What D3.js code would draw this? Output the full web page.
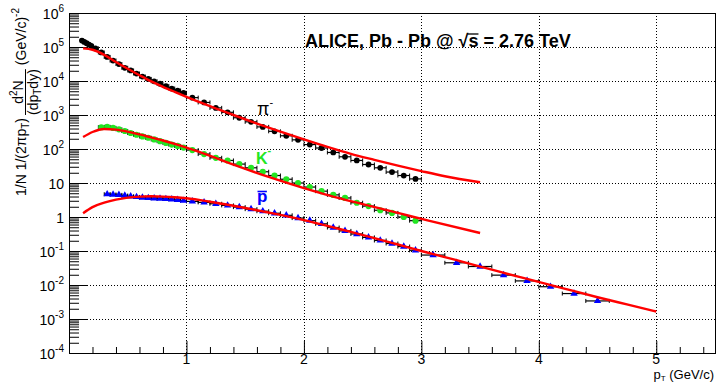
<!DOCTYPE html>
<html>
<head>
<meta charset="utf-8">
<script src="https://cdn.jsdelivr.net/npm/d3@7"></script>
<style>
  body { margin: 0; background: #fff; }
  svg { display: block; }
  text { font-family: "Liberation Sans", Arial, Helvetica, sans-serif; fill: #000; }
</style>
</head>
<body>
<svg id="chart" width="717" height="383"></svg>
<script>
// ---- pi- spectrum: bin centres, bin widths, yields ----
const piPt = [0.11, 0.13, 0.15, 0.17, 0.19,
  0.225, 0.275, 0.325, 0.375, 0.425, 0.475, 0.525, 0.575, 0.625, 0.675, 0.725, 0.775, 0.825, 0.875, 0.925, 0.975,
  1.05, 1.15, 1.25, 1.35, 1.45, 1.55, 1.65, 1.75, 1.85, 1.95, 2.05, 2.15, 2.25, 2.35, 2.45, 2.55, 2.65, 2.75, 2.85, 2.95];
const piWidth = [0.02, 0.02, 0.02, 0.02, 0.02,
  0.05, 0.05, 0.05, 0.05, 0.05, 0.05, 0.05, 0.05, 0.05, 0.05, 0.05, 0.05, 0.05, 0.05, 0.05, 0.05,
  0.1, 0.1, 0.1, 0.1, 0.1, 0.1, 0.1, 0.1, 0.1, 0.1, 0.1, 0.1, 0.1, 0.1, 0.1, 0.1, 0.1, 0.1, 0.1, 0.1];
const piYield = [155000, 141000, 129000, 117000, 107000,
  91000, 69000, 51000, 40000, 31600, 24500, 20400, 16600, 13500, 11500, 9800, 8300, 7100, 6000, 5250, 4470,
  3240, 2340, 1620, 1200, 830, 630, 447, 331, 245, 186, 135, 107, 79, 59, 46, 35, 28, 21, 16.6, 13.2];

// ---- K- spectrum ----
const kPt = [0.275, 0.325, 0.375, 0.425, 0.475, 0.525, 0.575, 0.625, 0.675, 0.725, 0.775, 0.825, 0.875, 0.925, 0.975,
  1.05, 1.15, 1.25, 1.35, 1.45, 1.55, 1.65, 1.75, 1.85, 1.95, 2.05, 2.15, 2.25, 2.35, 2.45, 2.55, 2.65, 2.75, 2.85, 2.95];
const kWidth = [0.05, 0.05, 0.05, 0.05, 0.05, 0.05, 0.05, 0.05, 0.05, 0.05, 0.05, 0.05, 0.05, 0.05, 0.05,
  0.1, 0.1, 0.1, 0.1, 0.1, 0.1, 0.1, 0.1, 0.1, 0.1, 0.1, 0.1, 0.1, 0.1, 0.1, 0.1, 0.1, 0.1, 0.1, 0.1];
const kYield = [437, 447, 417, 380, 339, 295, 263, 234, 214, 191, 170, 151, 135, 123, 110,
  93, 71, 55, 46, 36, 28, 21.4, 16.6, 12.9, 10.0, 7.6, 5.75, 4.47, 3.63, 2.63, 2.09, 1.58, 1.32, 1.0, 0.78];

// ---- anti-proton spectrum ----
const pPt = [0.325, 0.375, 0.425, 0.475, 0.525, 0.575, 0.625, 0.675, 0.725, 0.775, 0.825, 0.875, 0.925, 0.975,
  1.05, 1.15, 1.25, 1.35, 1.45, 1.55, 1.65, 1.75, 1.85, 1.95, 2.05, 2.15, 2.25, 2.35, 2.45, 2.55, 2.65, 2.75, 2.85, 2.95,
  3.1, 3.3, 3.5, 3.7, 3.9, 4.1, 4.3, 4.5];
const pWidth = [0.05, 0.05, 0.05, 0.05, 0.05, 0.05, 0.05, 0.05, 0.05, 0.05, 0.05, 0.05, 0.05, 0.05,
  0.1, 0.1, 0.1, 0.1, 0.1, 0.1, 0.1, 0.1, 0.1, 0.1, 0.1, 0.1, 0.1, 0.1, 0.1, 0.1, 0.1, 0.1, 0.1, 0.1,
  0.2, 0.2, 0.2, 0.2, 0.2, 0.2, 0.2, 0.2];
const pYield = [4.68, 4.57, 4.47, 4.27, 4.07, 3.89, 3.72, 3.63, 3.55, 3.47, 3.39, 3.31, 3.20, 3.02,
  2.88, 2.69, 2.45, 2.19, 1.95, 1.70, 1.48, 1.29, 1.12, 0.93, 0.78, 0.63, 0.49, 0.39, 0.316, 0.251, 0.204, 0.166, 0.135, 0.105,
  0.076, 0.045, 0.035, 0.0195, 0.0132, 0.0089, 0.0056, 0.0034];

// ---- fitted curves (pT, yield) ----
const piFitPt = [0.12, 0.2, 0.3, 0.4, 0.5, 0.6, 0.7, 0.8, 0.9, 1.0, 1.2, 1.4, 1.6, 1.8, 2.0, 2.2, 2.4, 2.6, 2.8, 3.0, 3.2, 3.5];
const piFit = [91200, 83000, 58900, 36300, 22900, 14800, 9770, 6760, 4790, 3430, 1820, 1000, 562, 324, 191, 115, 72, 48, 32.4, 22.4, 15.8, 10.5];
const kFitPt = [0.12, 0.2, 0.3, 0.4, 0.5, 0.6, 0.7, 0.8, 0.9, 1.0, 1.12, 1.4, 1.7, 2.0, 2.25, 2.5, 2.8, 3.07, 3.5];
const kFit = [224, 316, 389, 372, 324, 269, 219, 178, 141, 110, 79.4, 34.7, 15.1, 7.08, 3.98, 2.40, 1.32, 0.767, 0.339];
const pFitPt = [0.12, 0.2, 0.3, 0.4, 0.5, 0.6, 0.7, 0.8, 0.9, 1.0, 1.2, 1.4, 1.6, 1.8, 2.0, 2.2, 2.4, 2.6, 2.8, 3.0, 3.3, 3.6, 3.9, 4.2, 4.5, 4.75, 5.0];
const pFit = [1.29, 1.95, 2.63, 3.24, 3.72, 3.98, 4.07, 3.98, 3.80, 3.55, 2.82, 2.14, 1.58, 1.15, 0.813, 0.550, 0.363, 0.240, 0.155, 0.100, 0.0537, 0.0282, 0.0151, 0.00813, 0.00437, 0.00269, 0.00166];

// ---- axis ticks ----
const xMajor = [1, 2, 3, 4, 5];
const xMinor = [0.2, 0.4, 0.6, 0.8, 1.2, 1.4, 1.6, 1.8, 2.2, 2.4, 2.6, 2.8, 3.2, 3.4, 3.6, 3.8, 4.2, 4.4, 4.6, 4.8, 5.2, 5.4];
const yExponents = [-4, -3, -2, -1, 0, 1, 2, 3, 4, 5, 6];

const svg = d3.select("#chart");
const frame = { l: 69, t: 13, r: 715, b: 353 };
const x = d3.scaleLinear().domain([0, 5.5]).range([frame.l, frame.r]);
const y = d3.scaleLog().domain([1e-4, 1e6]).range([frame.b, frame.t]);

// dotted grid
const grid = svg.append("g").attr("stroke", "#000").attr("stroke-width", 1).attr("stroke-dasharray", "1,2");
grid.selectAll("line.gx").data(xMajor).join("line")
  .attr("x1", d => Math.round(x(d)) + 0.5).attr("x2", d => Math.round(x(d)) + 0.5)
  .attr("y1", frame.t).attr("y2", frame.b);
grid.selectAll("line.gy").data(yExponents.filter(e => e > -4 && e < 6)).join("line")
  .attr("y1", d => Math.round(y(Math.pow(10, d))) + 0.5).attr("y2", d => Math.round(y(Math.pow(10, d))) + 0.5)
  .attr("x1", frame.l).attr("x2", frame.r);

// y axis ticks (inside)
const yMinor = [];
yExponents.slice(0, -1).forEach(e => { for (let m = 2; m <= 9; m++) yMinor.push(m * Math.pow(10, e)); });
const yMajorVals = yExponents.map(e => Math.pow(10, e));
svg.append("g").attr("transform", `translate(${frame.l},0)`)
  .call(d3.axisLeft(y).tickValues(yMinor).tickSize(-10).tickFormat(""))
  .call(g => g.select(".domain").remove())
  .call(g => g.selectAll("line").attr("stroke", "#000"));
svg.append("g").attr("transform", `translate(${frame.l},0)`)
  .call(d3.axisLeft(y).tickValues(yMajorVals).tickSize(-19).tickFormat(""))
  .call(g => g.select(".domain").remove());

// x axis ticks (inside)
svg.append("g").attr("transform", `translate(0,${frame.b})`)
  .call(d3.axisBottom(x).tickValues(xMinor).tickSize(-6).tickFormat(""))
  .call(g => g.select(".domain").remove());
svg.append("g").attr("transform", `translate(0,${frame.b})`)
  .call(d3.axisBottom(x).tickValues(xMajor).tickSize(-12).tickFormat(""))
  .call(g => g.select(".domain").remove());

// frame
svg.append("rect").attr("x", frame.l + 0.5).attr("y", frame.t + 0.5)
  .attr("width", frame.r - frame.l).attr("height", frame.b - frame.t)
  .attr("fill", "none").attr("stroke", "#000").attr("stroke-width", 1);

// y tick labels
const yl = svg.append("g").attr("font-size", 14).attr("text-anchor", "end");
yExponents.forEach(e => {
  const t = yl.append("text").attr("x", 64).attr("y", y(Math.pow(10, e)) + 6);
  if (e === 0) { t.text("1"); }
  else if (e === 1) { t.text("10"); }
  else {
    t.append("tspan").text("10");
    t.append("tspan").attr("font-size", 10).attr("dy", -7).text(e < 0 ? "-" + (-e) : String(e));
  }
});

// x tick labels
svg.append("g").attr("font-size", 14).attr("text-anchor", "middle")
  .selectAll("text").data(xMajor).join("text")
  .attr("x", d => x(d)).attr("y", 364).text(d => d);

// x axis title
const xt = svg.append("text").attr("x", 714).attr("y", 379).attr("font-size", 13).attr("text-anchor", "end");
xt.append("tspan").text("p");
xt.append("tspan").attr("font-size", 8).attr("dy", 2).text("T");
xt.append("tspan").attr("dy", -2).text(" (GeV/c)");

// y axis title, built along the rotated axis
const ytg = svg.append("g").attr("transform", "translate(0,196) rotate(-90)");
let u = 0;
const t1 = ytg.append("text").attr("x", u).attr("y", 26).attr("font-size", 14);
t1.append("tspan").text("1/N 1/(2πp");
t1.append("tspan").attr("font-size", 10).attr("dy", 3).text("T");
t1.append("tspan").attr("dy", -3).text(")");
u += t1.node().getComputedTextLength() + 3;
const num = ytg.append("text").attr("y", 23).attr("font-size", 14).attr("text-anchor", "middle");
num.append("tspan").text("d");
num.append("tspan").attr("font-size", 10).attr("dy", -6).text("2");
num.append("tspan").attr("dy", 6).text("N");
const den = ytg.append("text").attr("y", 37.5).attr("font-size", 14).attr("text-anchor", "middle");
den.append("tspan").text("(dp");
den.append("tspan").attr("font-size", 10).attr("dy", 3).text("T");
den.append("tspan").attr("dy", -3).text("dy)");
const fw = Math.max(num.node().getComputedTextLength(), den.node().getComputedTextLength());
num.attr("x", u + fw / 2); den.attr("x", u + fw / 2);
ytg.append("line").attr("x1", u).attr("x2", u + fw).attr("y1", 25.5).attr("y2", 25.5).attr("stroke", "#000").attr("stroke-width", 1);
u += fw + 4;
const t3 = ytg.append("text").attr("x", u).attr("y", 26).attr("font-size", 14);
t3.append("tspan").text("(GeV/c)");
t3.append("tspan").attr("font-size", 10).attr("dy", -7).text("-2");

// spectra: horizontal bin-width bars with end caps, then markers
function drawSpectrum(pts, widths, vals, color, marker) {
  const rows = pts.map((p, i) => ({ p, w: widths[i], v: vals[i] }));
  const g = svg.append("g");
  g.selectAll("line.err").data(rows).join("line")
    .attr("x1", d => x(d.p - d.w / 2)).attr("x2", d => x(d.p + d.w / 2))
    .attr("y1", d => y(d.v)).attr("y2", d => y(d.v))
    .attr("stroke", "#000").attr("stroke-width", 1.2);
  ["lo", "hi"].forEach(side => {
    g.selectAll("line.cap" + side).data(rows).join("line")
      .attr("x1", d => x(side === "lo" ? d.p - d.w / 2 : d.p + d.w / 2))
      .attr("x2", d => x(side === "lo" ? d.p - d.w / 2 : d.p + d.w / 2))
      .attr("y1", d => y(d.v) - 2).attr("y2", d => y(d.v) + 2)
      .attr("stroke", "#000").attr("stroke-width", 1);
  });
  g.selectAll("path.m").data(rows).join("path")
    .attr("transform", d => `translate(${x(d.p)},${y(d.v)})`)
    .attr("d", d3.symbol().type(marker.type).size(marker.size))
    .attr("fill", color);
}
drawSpectrum(piPt, piWidth, piYield, "#000", { type: d3.symbolCircle, size: 26 });
drawSpectrum(kPt, kWidth, kYield, "#22e622", { type: d3.symbolCircle, size: 30 });
drawSpectrum(pPt, pWidth, pYield, "#0000ff", { type: d3.symbolTriangle, size: 24 });

// fit curves
const line = d3.line().x(d => x(d[0])).y(d => y(d[1])).curve(d3.curveMonotoneX);
[[piFitPt, piFit], [kFitPt, kFit], [pFitPt, pFit]].forEach(([ps, vs]) => {
  svg.append("path").datum(ps.map((p, i) => [p, vs[i]]))
    .attr("d", line).attr("fill", "none").attr("stroke", "#ff0000").attr("stroke-width", 2.4);
});

// particle labels
const lp = svg.append("text").attr("x", 257).attr("y", 114.5).attr("font-size", 18);
lp.append("tspan").text("π");
lp.append("tspan").attr("font-size", 11).attr("dy", -9).text("-");
const lk = svg.append("text").attr("x", 256).attr("y", 163.5).attr("font-size", 16).attr("font-weight", "bold").style("fill", "#22e622");
lk.append("tspan").text("K");
lk.append("tspan").attr("font-size", 11).attr("dy", -10).text("-");
const lpb = svg.append("text").attr("x", 257).attr("y", 201.5).attr("font-size", 17).attr("font-weight", "bold").style("fill", "#0000ff").text("p");
const pb = lpb.node().getBBox();
svg.append("line").attr("x1", pb.x + 0.5).attr("x2", pb.x + pb.width - 0.5)
  .attr("y1", 191.5).attr("y2", 191.5).attr("stroke", "#0000ff").attr("stroke-width", 1.6);

// collision system title
const titleStr = "ALICE, Pb - Pb @ √s = 2.76 TeV";
const title = svg.append("text").attr("x", 305).attr("y", 46.5).attr("font-size", 18).attr("font-weight", "bold").text(titleStr);
const sIdx = titleStr.indexOf("√") + 1;
const sBox = title.node().getExtentOfChar(sIdx);
svg.append("line").attr("x1", sBox.x - 1).attr("x2", sBox.x + sBox.width)
  .attr("y1", sBox.y + 3.5).attr("y2", sBox.y + 3.5).attr("stroke", "#000").attr("stroke-width", 1.3);
</script>
</body>
</html>
